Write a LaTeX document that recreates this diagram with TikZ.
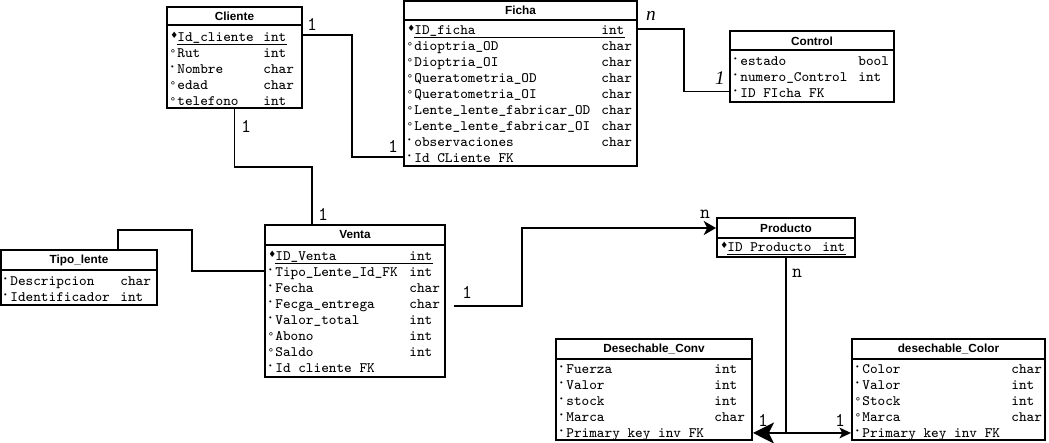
\documentclass[tikz,border=0pt]{standalone}
\usepackage{fontspec}
\setmainfont{Liberation Serif}
\setsansfont{Liberation Sans}
\newfontfamily\symfont{DejaVu Sans}
\usetikzlibrary{calc,arrows.meta,fit}

% attribute markers
\newcommand{\kmark}{\raisebox{1.6pt}{\symfont\fontsize{5}{5}\selectfont ♦}}
\newcommand{\dmark}{\raisebox{2.4pt}{\symfont\fontsize{4}{4}\selectfont •}}
\newcommand{\omark}{{\symfont\fontsize{6}{6}\selectfont °}}

\tikzset{
    entity/.style={draw,line width=1.1pt,inner sep=0pt},
    title/.style={font=\sffamily\bfseries\fontsize{6.7}{8}\selectfont,inner sep=0pt},
    headrule/.style={line width=0.8pt},
    attr/.style={font=\ttfamily\fontsize{8.2}{9}\selectfont,anchor=west,
        inner sep=0pt,text height=4.5pt,text depth=1.5pt},
    keyrule/.style={line width=0.55pt},
    link/.style={line width=1.1pt},
    card/.style={font=\ttfamily\fontsize{11}{12}\selectfont,inner sep=0pt},
    cardit/.style={font=\rmfamily\itshape\fontsize{11}{12}\selectfont,inner sep=0pt},
}

\begin{document}
\begin{tikzpicture}[x=0.02cm,y=-0.02cm]
    \useasboundingbox (0,0) rectangle (1049,443);

    %======================================================
    % Cliente
    %======================================================
    \node[entity,fit={(167,7) (302,108)}] (cliente) {};
    \node[title] at (234.5,16) {Cliente};
    \draw[headrule] (167,25) -- (302,25);
    \foreach \mk/\nm/\ty [count=\i] in {\kmark/Id\_cliente/int, \omark/Rut/int,
        \dmark/Nombre/char, \omark/edad/char, \omark/telefono/int}{
        \node[attr] (cli\i) at (170,23+16*\i) {\makebox[4pt][l]{\mk}\nm};
        \node[attr] (clity\i) at (263,23+16*\i) {\ty};
    }
    \draw[keyrule] ($(cli1.south west)+(7,0)$) -- (clity1.south east);

    %======================================================
    % Ficha
    %======================================================
    \node[entity,fit={(404,1) (637,166)}] (ficha) {};
    \node[title] at (520.5,10) {Ficha};
    \draw[headrule] (404,20) -- (637,20);
    \foreach \mk/\nm/\ty [count=\i] in {\kmark/ID\_ficha/int,
        \omark/dioptria\_OD/char, \omark/Dioptria\_OI/char,
        \omark/Queratometria\_OD/char, \omark/Queratometria\_OI/char,
        \omark/Lente\_lente\_fabricar\_OD/char, \omark/Lente\_lente\_fabricar\_OI/char,
        \dmark/observaciones/char, \dmark/Id CLiente FK/{}}{
        \node[attr] (fic\i) at (407,16+16*\i) {\makebox[4pt][l]{\mk}\nm};
        \node[attr] (ficty\i) at (601,16+16*\i) {\ty};
    }
    \draw[keyrule] ($(fic1.south west)+(7,0)$) -- (ficty1.south east);

    %======================================================
    % Control
    %======================================================
    \node[entity,fit={(730,31) (894,102)}] (control) {};
    \node[title] at (812,41) {Control};
    \draw[headrule] (730,50) -- (894,50);
    \foreach \mk/\nm/\ty [count=\i] in {\dmark/estado/bool,
        \dmark/numero\_Control/int, \dmark/ID FIcha FK/{}}{
        \node[attr] (con\i) at (733,47+16*\i) {\makebox[4pt][l]{\mk}\nm};
        \node[attr] (conty\i) at (858,47+16*\i) {\ty};
    }

    %======================================================
    % Tipo_lente
    %======================================================
    \node[entity,fit={(1,250) (157,305)}] (tipo) {};
    \node[title] at (79,260) {Tipo\_lente};
    \draw[headrule] (1,270) -- (157,270);
    \foreach \mk/\nm/\ty [count=\i] in {\dmark/Descripcion/char,
        \dmark/Identificador/int}{
        \node[attr] (tip\i) at (3,267+16*\i) {\makebox[4pt][l]{\mk}\nm};
        \node[attr] (tipty\i) at (120,267+16*\i) {\ty};
    }

    %======================================================
    % Venta
    %======================================================
    \node[entity,fit={(265,225) (445,377)}] (venta) {};
    \node[title] at (355,235) {Venta};
    \draw[headrule] (265,245) -- (445,245);
    \foreach \mk/\nm/\ty [count=\i] in {\kmark/ID\_Venta/int,
        \dmark/Tipo\_Lente\_Id\_FK/int, \dmark/Fecha/char,
        \dmark/Fecga\_entrega/char, \dmark/Valor\_total/int,
        \omark/Abono/int, \omark/Saldo/int, \dmark/Id cliente FK/{}}{
        \node[attr] (ven\i) at (268,242+16*\i) {\makebox[4pt][l]{\mk}\nm};
        \node[attr] (venty\i) at (409,242+16*\i) {\ty};
    }
    \draw[keyrule] ($(ven1.south west)+(7,0)$) -- (venty1.south east);

    %======================================================
    % Producto
    %======================================================
    \node[entity,fit={(717,218) (855,257)}] (producto) {};
    \node[title] (protitle) at (786,228) {Producto};
    \draw[headrule] (717,238) -- (855,238);
    \node[attr] (pro1) at (720,249) {\makebox[4pt][l]{\kmark}ID Producto};
    \node[attr] (proty1) at (822,249) {int};
    \draw[keyrule] ($(pro1.south west)+(7,0)$) -- (proty1.south east);

    %======================================================
    % Desechable_Conv / desechable_Color
    %======================================================
    \node[entity,fit={(556,339) (752,440)}] (conv) {};
    \node[title] at (654,349) {Desechable\_Conv};
    \draw[headrule] (556,359) -- (752,359);
    \foreach \mk/\nm/\ty [count=\i] in {\dmark/Fuerza/int, \dmark/Valor/int,
        \dmark/stock/int, \dmark/Marca/char, \dmark/Primary key inv FK/{}}{
        \node[attr] (cnv\i) at (559,355+16*\i) {\makebox[4pt][l]{\mk}\nm};
        \node[attr] (cnvty\i) at (714,355+16*\i) {\ty};
    }

    \node[entity,fit={(852,339) (1045,440)}] (color) {};
    \node[title] at (948.5,349) {desechable\_Color};
    \draw[headrule] (852,359) -- (1045,359);
    \foreach \mk/\nm/\ty [count=\i] in {\dmark/Color/char, \dmark/Valor/int,
        \omark/Stock/int, \omark/Marca/char, \dmark/Primary key inv FK/{}}{
        \node[attr] (col\i) at (855,355+16*\i) {\makebox[4pt][l]{\mk}\nm};
        \node[attr] (colty\i) at (1011,355+16*\i) {\ty};
    }

    %======================================================
    % connectors
    %======================================================
    % Cliente -- Ficha
    \coordinate (j1) at (352,0);
    \draw[link] ([yshift=0.08cm]cliente.east |- cli1) -| ([yshift=0.06cm]j1 |- fic9)
        -- ([yshift=0.06cm]ficha.west |- fic9);
    % Cliente -- Venta
    \coordinate (j2) at (312,167);
    \draw[link] (cliente.south) |- (j2) -- (j2 |- venta.north);
    % Ficha -- Control
    \coordinate (j3) at (684,0);
    \draw[link] ([yshift=0.06cm]ficha.east |- fic1) -| ([yshift=0.07cm]j3 |- con3)
        -- ([yshift=0.07cm]control.west |- con3);
    % Tipo_lente -- Venta
    \coordinate (j4) at (192,230);
    \draw[link] ($(tipo.north west)+(118,0)$) |- (j4) |- ([yshift=0.06cm]venta.west |- ven2);
    % Venta -> Producto
    \coordinate (j5) at (522,0);
    \draw[link,-{Stealth[length=7pt,width=8pt,inset=2pt]}]
        ($(venta.east |- ven4)+(8,0)$) -| (j5 |- protitle) -- (producto.west |- protitle);
    % Producto -> Desechable_Conv / desechable_Color
    \path (producto.south) ++(0,175) coordinate (j6);
    \draw[link] (producto.south) -- (j6);
    \draw[link,-{Stealth[length=12pt,width=12pt,inset=3pt]}] (j6) -- (conv.east |- j6);
    \draw[link,-{Stealth[length=6.5pt,width=6pt,inset=1.5pt]}] (j6) -- (color.west |- j6);

    %======================================================
    % cardinalities
    %======================================================
    \node[card] (k1) at (312,24) {1};
    \node[card] (k2) at (393,146) {1};
    \node[card] (k3) at (246,126) {1};
    \node[card] (k4) at (323,214) {1};
    \node[cardit] (k5) at (651,16) {n};
    \node[cardit] (k6) at (720,78) {1};
    \node[card] (k7) at (467,292) {1};
    \node[card] (k8) at (705,214) {n};
    \node[card] (k9) at (797,273) {n};
    \node[card] (k10) at (763,420) {1};
    \node[card] (k11) at (840,420) {1};
\end{tikzpicture}
\end{document}
